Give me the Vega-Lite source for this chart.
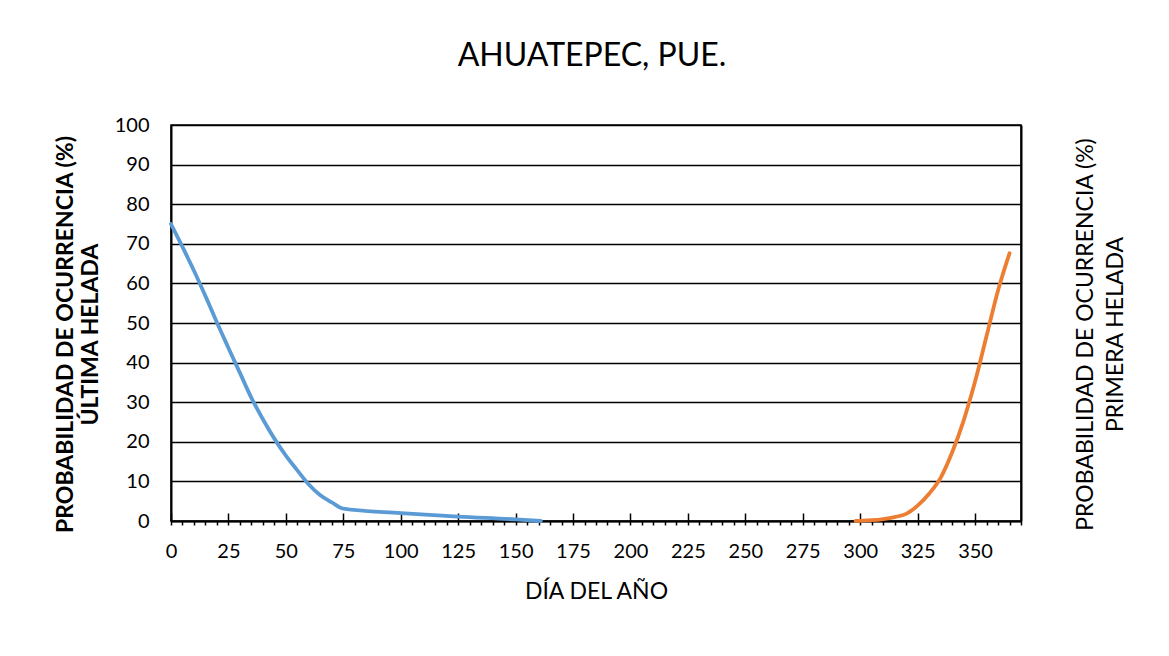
{
  "$schema": "https://vega.github.io/schema/vega-lite/v6.json",
  "width": 850,
  "height": 396,
  "autosize": {"type": "none"},
  "padding": {"left": 171, "top": 125, "right": 148, "bottom": 135},
  "background": "white",
  "config": {
    "font": "Lato",
    "view": {"stroke": "black", "strokeWidth": 1.5},
    "axis": {"labelFont": "Lato", "titleFont": "Lato", "labelColor": "black", "titleColor": "black"}
  },
  "title": {
    "text": "AHUATEPEC, PUE.",
    "fontSize": 32,
    "fontWeight": "normal",
    "color": "black",
    "anchor": "middle",
    "baseline": "alphabetic",
    "offset": 17,
    "dx": -4
  },
  "datasets": {
    "ultima": [
      {"dia": 0, "prob": 75},
      {"dia": 5, "prob": 69.2},
      {"dia": 10, "prob": 63.2},
      {"dia": 15, "prob": 56.8},
      {"dia": 20, "prob": 50.1},
      {"dia": 25, "prob": 43.7},
      {"dia": 30, "prob": 37.4},
      {"dia": 35, "prob": 31.1},
      {"dia": 40, "prob": 25.7},
      {"dia": 45, "prob": 20.8},
      {"dia": 50, "prob": 16.5},
      {"dia": 55, "prob": 12.8},
      {"dia": 60, "prob": 9.2},
      {"dia": 65, "prob": 6.5},
      {"dia": 70, "prob": 4.7},
      {"dia": 75, "prob": 3.1},
      {"dia": 100, "prob": 2.0},
      {"dia": 125, "prob": 1.1},
      {"dia": 150, "prob": 0.4},
      {"dia": 161, "prob": 0}
    ],
    "primera": [
      {"dia": 298, "prob": 0},
      {"dia": 300, "prob": 0.05},
      {"dia": 305, "prob": 0.2},
      {"dia": 310, "prob": 0.5},
      {"dia": 315, "prob": 1.0},
      {"dia": 320, "prob": 1.8},
      {"dia": 325, "prob": 3.9},
      {"dia": 330, "prob": 6.9},
      {"dia": 335, "prob": 10.9},
      {"dia": 340, "prob": 17.3},
      {"dia": 345, "prob": 25.3},
      {"dia": 350, "prob": 35.2},
      {"dia": 355, "prob": 46.7},
      {"dia": 360, "prob": 58.2},
      {"dia": 365, "prob": 67.6}
    ]
  },
  "layer": [
    {
      "data": {"name": "ultima"},
      "mark": {"type": "line", "color": "#5B9BD5", "strokeWidth": 3.8, "interpolate": "monotone", "strokeCap": "round"},
      "encoding": {
        "x": {
          "field": "dia", "type": "quantitative",
          "scale": {"domain": [0, 370], "nice": false, "zero": false},
          "axis": {
            "orient": "bottom",
            "title": "DÍA DEL AÑO",
            "titleFontSize": 23,
            "titleFontWeight": "normal",
            "titlePadding": 19,
            "values": [0,5,10,15,20,25,30,35,40,45,50,55,60,65,70,75,80,85,90,95,100,105,110,115,120,125,130,135,140,145,150,155,160,165,170,175,180,185,190,195,200,205,210,215,220,225,230,235,240,245,250,255,260,265,270,275,280,285,290,295,300,305,310,315,320,325,330,335,340,345,350,355,360,365,370],
            "labelExpr": "datum.value % 25 === 0 ? datum.label : ''",
            "labelFontSize": 20,
            "labelPadding": 16,
            "labelFlush": false,
            "labelOverlap": false,
            "tickSize": 4,
            "tickColor": "black",
            "tickWidth": 1.5,
            "domainColor": "black",
            "domainWidth": 2,
            "grid": false
          }
        },
        "y": {
          "field": "prob", "type": "quantitative",
          "scale": {"domain": [0, 100], "nice": false},
          "axis": {
            "orient": "left",
            "title": ["PROBABILIDAD DE OCURRENCIA (%)", "ÚLTIMA HELADA"],
            "titleFontSize": 23,
            "titleFontWeight": "bold",
            "titleAngle": -90,
            "titleBaseline": "alphabetic",
            "titleLineHeight": 25,
            "titleX": -99,
            "titleY": 209,
            "titleAlign": "center",
            "values": [0,10,20,30,40,50,60,70,80,90,100],
            "labelFontSize": 20,
            "labelPadding": 22,
            "ticks": false,
            "tickSize": 0,
            "domainColor": "black",
            "domainWidth": 2,
            "grid": true,
            "gridColor": "black",
            "gridWidth": 1.3
          }
        }
      }
    },
    {
      "data": {"name": "primera"},
      "mark": {"type": "line", "color": "#ED7D31", "strokeWidth": 3.8, "interpolate": "monotone", "strokeCap": "round"},
      "encoding": {
        "x": {
          "field": "dia", "type": "quantitative",
          "scale": {"domain": [0, 370], "nice": false, "zero": false},
          "axis": {
            "orient": "bottom",
            "title": null,
            "values": [0,25,50,75,100,125,150,175,200,225,250,275,300,325,350],
            "labels": false,
            "domain": false,
            "grid": false,
            "tickSize": -8,
            "tickColor": "black",
            "tickWidth": 1.5
          }
        },
        "y": {
          "field": "prob", "type": "quantitative",
          "scale": {"domain": [0, 100], "nice": false},
          "axis": {
            "orient": "right",
            "title": ["PROBABILIDAD DE OCURRENCIA (%)", "PRIMERA HELADA"],
            "titleFontSize": 23,
            "titleFontWeight": "normal",
            "titleAngle": -90,
            "titleBaseline": "alphabetic",
            "titleLineHeight": 30,
            "titleX": 71,
            "titleY": 209,
            "titleAlign": "center",
            "labels": false,
            "ticks": false,
            "domainColor": "black",
            "domainWidth": 2,
            "grid": false
          }
        }
      }
    }
  ],
  "resolve": {"axis": {"x": "independent", "y": "independent"}}
}
